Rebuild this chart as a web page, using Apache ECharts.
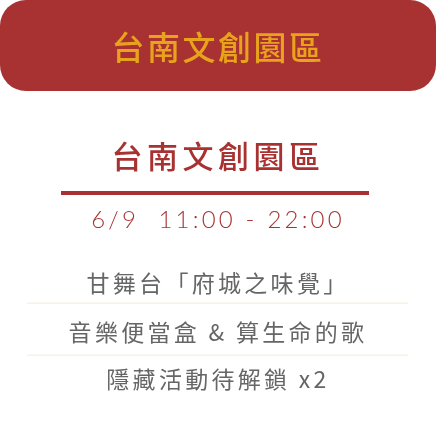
<!DOCTYPE html>
<html>
<head>
<meta charset="utf-8">
<script src="https://cdn.jsdelivr.net/npm/echarts@6/dist/echarts.min.js"></script>
<style>
  html, body { margin: 0; padding: 0; background: #fff; }
  #card { width: 436px; height: 423px; }
</style>
</head>
<body>
<div id="card"></div>
<script>
// card texts
var bannerTitle = '台南文創園區'
var venueName = '台南文創園區'
var schedule = '6/9\u00a0\u00a011:00 - 22:00'
var programItems = ['甘舞台「府城之味覺」', '音樂便當盒 & 算生命的歌', '隱藏活動待解鎖 x2']

var RED = '#a83232'
var GOLD = '#e9a21b'
var CJK = '"Noto Sans CJK TC", "Noto Sans CJK SC", sans-serif'

var measureCtx = document.createElement('canvas').getContext('2d')

// zrender has no letter-spacing, so lay the glyphs out one by one (css style, trailing gap included)
function spacedText(str, cx, cy, size, spacing, family, weight, color) {
    var font = weight + ' ' + size + 'px ' + family
    measureCtx.font = font
    var chars = Array.from(str)
    var widths = chars.map(function (c) { return measureCtx.measureText(c).width })
    var total = widths.reduce(function (a, b) { return a + b }, 0) + chars.length * spacing
    var x = cx - total / 2
    var children = []
    chars.forEach(function (c, i) {
        children.push({
            type: 'text',
            x: x,
            y: cy,
            style: {
                text: c,
                font: font,
                fill: color,
                textAlign: 'left',
                textVerticalAlign: 'middle'
            }
        })
        x += widths[i] + spacing
    })
    return { type: 'group', children: children }
}

var graphics = [
    {
        type: 'rect',
        shape: { x: 0, y: 0, width: 436, height: 91, r: 26 },
        style: { fill: RED }
    },
    spacedText(bannerTitle, 218, 47, 33, 2.5, CJK, 500, GOLD),
    spacedText(venueName, 218, 156, 31, 4.5, CJK, 500, RED),
    {
        type: 'rect',
        shape: { x: 61, y: 191, width: 308, height: 4 },
        style: { fill: RED }
    },
    spacedText(schedule, 218, 220, 24, 3.2, 'Lato, sans-serif', 300, RED)
]

var rowY = [283, 332, 379]
programItems.forEach(function (item, i) {
    graphics.push(spacedText(item, 218, rowY[i], 23, 3.3, CJK, 400, '#666666'))
    if (i < programItems.length - 1) {
        graphics.push({
            type: 'rect',
            shape: { x: 27, y: [302.5, 354.5][i], width: 381, height: 1.2 },
            style: { fill: '#f6efdf' }
        })
    }
})

var chart = echarts.init(document.getElementById('card'), null, { renderer: 'canvas' })
chart.setOption({
    backgroundColor: '#ffffff',
    animation: false,
    graphic: { elements: graphics }
})
</script>
</body>
</html>
